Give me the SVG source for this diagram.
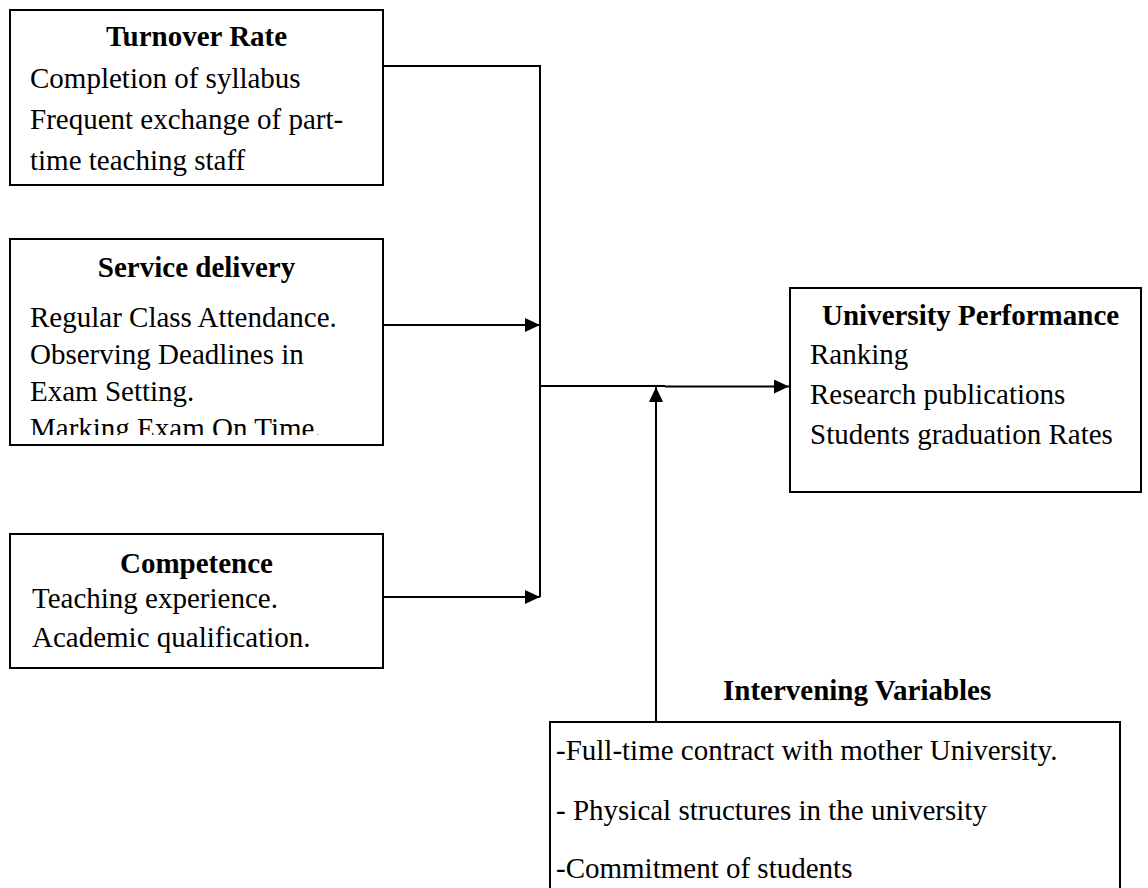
<svg xmlns="http://www.w3.org/2000/svg" width="1148" height="888" viewBox="0 0 1148 888">
<style>
  .box { fill: #fff; stroke: #000; stroke-width: 2; }
  .t { font-family: "Liberation Serif", "Times New Roman", serif; font-size: 29px; fill: #000; }
  .b { font-weight: bold; }
  .c { text-anchor: middle; }
  .ln { fill: none; stroke: #000; stroke-width: 2; }
</style>
<defs>
  <marker id="ah" markerUnits="userSpaceOnUse" markerWidth="16" markerHeight="14" refX="15" refY="7" orient="auto">
    <path d="M0,0 L15,7 L0,14 z" fill="#000"/>
  </marker>
  <clipPath id="clip2"><rect x="10" y="239" width="373" height="196"/></clipPath>
</defs>
<rect width="1148" height="888" fill="#fff"/>

<g id="connectors">
  <path class="ln" d="M383,66 H540 V597"/>
  <path class="ln" d="M383,325 H540" marker-end="url(#ah)"/>
  <path class="ln" d="M383,597 H540" marker-end="url(#ah)"/>
  <path class="ln" d="M540,386 H665"/>
  <path class="ln" d="M665,386.5 H789" marker-end="url(#ah)"/>
  <path class="ln" d="M656,722 V387" marker-end="url(#ah)"/>
</g>

<g id="turnover">
  <rect class="box" x="10" y="10" width="373" height="175"/>
  <text class="t b c" x="196.5" y="46">Turnover Rate</text>
  <text class="t" x="30" y="88">Completion of syllabus</text>
  <text class="t" x="30" y="129">Frequent exchange of part-</text>
  <text class="t" x="30" y="170">time teaching staff</text>
</g>

<g id="service">
  <rect class="box" x="10" y="239" width="373" height="206"/>
  <g clip-path="url(#clip2)">
    <text class="t b c" x="196.5" y="277">Service delivery</text>
    <text class="t" x="30" y="327">Regular Class Attendance.</text>
    <text class="t" x="30" y="364">Observing Deadlines in</text>
    <text class="t" x="30" y="401">Exam Setting.</text>
    <text class="t" x="30" y="438">Marking Exam On Time.</text>
  </g>
</g>

<g id="competence">
  <rect class="box" x="10" y="534" width="373" height="134"/>
  <text class="t b c" x="196.5" y="573">Competence</text>
  <text class="t" x="32" y="608">Teaching experience.</text>
  <text class="t" x="32" y="647">Academic qualification.</text>
</g>

<g id="performance">
  <rect class="box" x="790" y="288" width="351" height="204"/>
  <text class="t b" x="822" y="325">University Performance</text>
  <text class="t" x="810" y="364">Ranking</text>
  <text class="t" x="810" y="404">Research publications</text>
  <text class="t" x="810" y="444">Students graduation Rates</text>
</g>

<g id="intervening">
  <text class="t b" x="723" y="700">Intervening Variables</text>
  <rect class="box" x="550" y="722" width="570" height="180"/>
  <text class="t" x="556" y="760">-Full-time contract with mother University.</text>
  <text class="t" x="556" y="820">- Physical structures in the university</text>
  <text class="t" x="556" y="878">-Commitment of students</text>
</g>
</svg>
